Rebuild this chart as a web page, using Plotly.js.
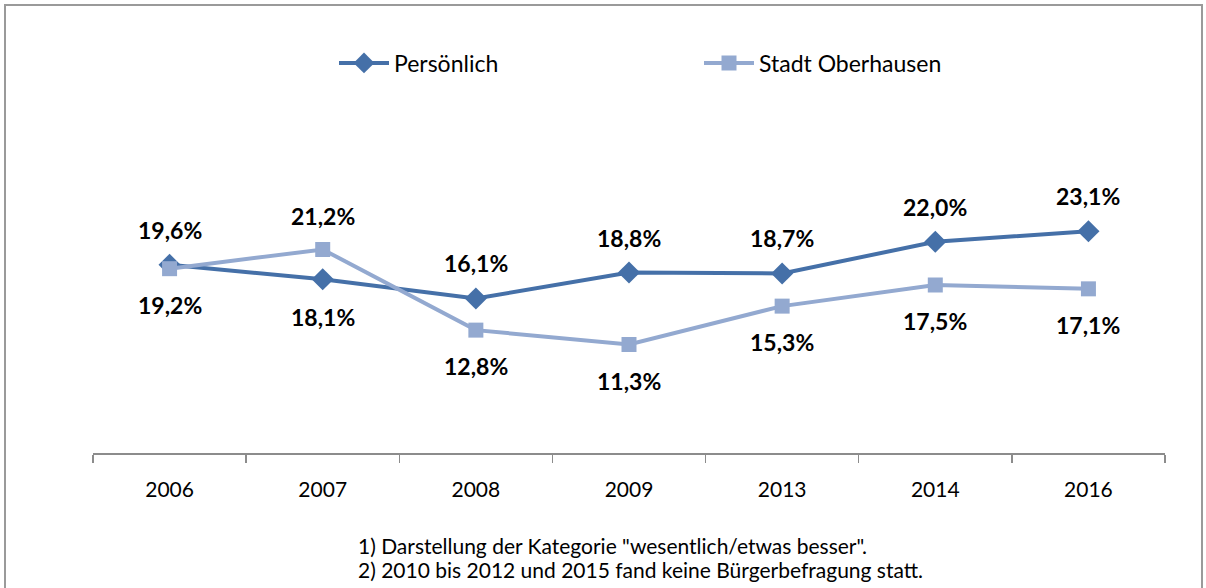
<!DOCTYPE html>
<html>
<head>
<meta charset="utf-8">
<script src="https://cdn.plot.ly/plotly-3.0.1.min.js"></script>
<style>
html,body{margin:0;padding:0;background:#fff;}
#chart{width:1206px;height:588px;}
</style>
</head>
<body>
<div id="chart"></div>
<script>
var years = ["2006", "2007", "2008", "2009", "2013", "2014", "2016"];
var persoenlich = [19.6, 18.1, 16.1, 18.8, 18.7, 22.0, 23.1];
var stadt = [19.2, 21.2, 12.8, 11.3, 15.3, 17.5, 17.1];
var seriesNames = ["Persönlich", "Stadt Oberhausen"];
var footnotes = [
  '1) Darstellung der Kategorie "wesentlich/etwas besser".',
  '2) 2010 bis 2012 und 2015 fand keine Bürgerbefragung statt.'
];

var FONT = "Lato, 'Open Sans', sans-serif";
var colP = "#4570A8";
var colS = "#93A9D0";

function fmt(v){ return v.toFixed(1).replace('.', ',') + '%'; }

var traces = [
  {
    x: years, y: persoenlich, name: seriesNames[0], type: "scatter", mode: "lines+markers",
    line: {color: colP, width: 4},
    marker: {symbol: "diamond", size: 17, color: colP},
    hoverinfo: "skip"
  },
  {
    x: years, y: stadt, name: seriesNames[1], type: "scatter", mode: "lines+markers",
    line: {color: colS, width: 4},
    marker: {symbol: "square", size: 15, color: colS},
    hoverinfo: "skip"
  }
];

var annotations = [];
for (var i = 0; i < years.length; i++) {
  var p = persoenlich[i], s = stadt[i];
  var pAbove = p >= s;
  annotations.push({
    x: i, y: p, xref: "x", yref: "y", text: "<b>" + fmt(p) + "</b>",
    showarrow: false, yshift: pAbove ? 35 : -38,
    font: {family: FONT, size: 23, color: "#000"}
  });
  annotations.push({
    x: i, y: s, xref: "x", yref: "y", text: "<b>" + fmt(s) + "</b>",
    showarrow: false, yshift: pAbove ? -36 : 33,
    font: {family: FONT, size: 23, color: "#000"}
  });
}
annotations.push({
  x: (356 - 93) / 1072, y: (453 - 545) / 336, xref: "paper", yref: "paper",
  xanchor: "left", yanchor: "middle", align: "left", showarrow: false,
  text: footnotes[0], font: {family: FONT, size: 21, color: "#000"}
});
annotations.push({
  x: (356 - 93) / 1072, y: (453 - 569) / 336, xref: "paper", yref: "paper",
  xanchor: "left", yanchor: "middle", align: "left", showarrow: false,
  text: footnotes[1], font: {family: FONT, size: 21, color: "#000"}
});

var layout = {
  width: 1206, height: 588,
  margin: {l: 93, r: 41, t: 117, b: 135},
  paper_bgcolor: "#fff", plot_bgcolor: "#fff",
  font: {family: FONT, color: "#000"},
  showlegend: true,
  legend: {
    orientation: "h", x: 334 / 1206, xref: "container", xanchor: "left",
    y: 1 - 63 / 588, yref: "container", yanchor: "middle",
    font: {family: FONT, size: 23, color: "#000"},
    itemwidth: 50,
    entrywidth: 300, entrywidthmode: "pixels",
    bgcolor: "rgba(0,0,0,0)"
  },
  xaxis: {
    type: "category", range: [-0.5, 6.5], fixedrange: true,
    showline: true, linecolor: "#8c8c8c", linewidth: 1.5,
    ticks: "outside", tickson: "boundaries", ticklen: 8, tickcolor: "#8c8c8c", tickwidth: 1.5,
    ticklabelstandoff: 17,
    showgrid: false, zeroline: false,
    tickfont: {family: FONT, size: 21, color: "#000"}
  },
  yaxis: {
    range: [0, 35], visible: false, showgrid: false, zeroline: false, fixedrange: true
  },
  annotations: annotations,
  shapes: [{
    type: "rect", xref: "paper", yref: "paper",
    x0: (5 - 93) / 1072, x1: (1202 - 93) / 1072,
    y0: (453 - 600) / 336, y1: (453 - 5) / 336,
    line: {color: "#9a9a9a", width: 2}, fillcolor: "rgba(0,0,0,0)", layer: "below"
  }]
};

Plotly.newPlot("chart", traces, layout, {displayModeBar: false, staticPlot: true});
</script>
</body>
</html>
